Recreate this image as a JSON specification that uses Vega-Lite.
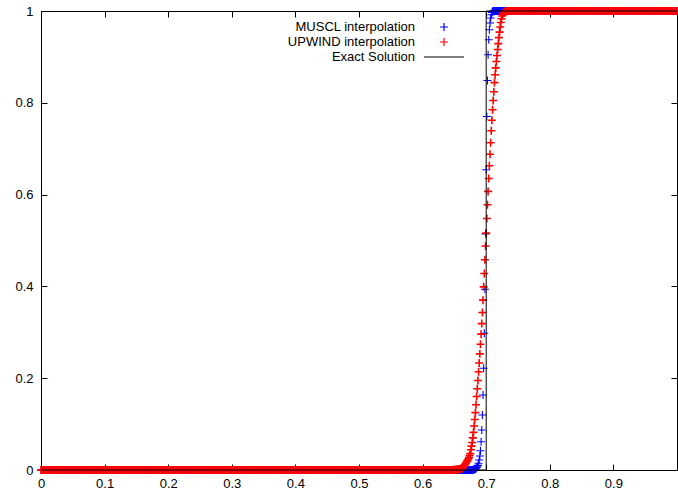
{
"$schema": "https://vega.github.io/schema/vega-lite/v6.json",
"width": 636,
"height": 459,
"autosize": {"type": "none"},
"padding": {"left": 41, "top": 11, "right": 1, "bottom": 23},
"config": {"view": {"stroke": "black", "strokeWidth": 1}, "font": "Liberation Sans", "background": "white"},
"data": {"values": [
{"x":0.000,"m":0,"u":0},{"x":0.002,"m":0,"u":0},{"x":0.004,"m":0,"u":0},{"x":0.006,"m":0,"u":0},{"x":0.008,"m":0,"u":0},
{"x":0.010,"m":0,"u":0},{"x":0.012,"m":0,"u":0},{"x":0.014,"m":0,"u":0},{"x":0.016,"m":0,"u":0},{"x":0.018,"m":0,"u":0},
{"x":0.020,"m":0,"u":0},{"x":0.022,"m":0,"u":0},{"x":0.024,"m":0,"u":0},{"x":0.026,"m":0,"u":0},{"x":0.028,"m":0,"u":0},
{"x":0.030,"m":0,"u":0},{"x":0.032,"m":0,"u":0},{"x":0.034,"m":0,"u":0},{"x":0.036,"m":0,"u":0},{"x":0.038,"m":0,"u":0},
{"x":0.040,"m":0,"u":0},{"x":0.042,"m":0,"u":0},{"x":0.044,"m":0,"u":0},{"x":0.046,"m":0,"u":0},{"x":0.048,"m":0,"u":0},
{"x":0.050,"m":0,"u":0},{"x":0.052,"m":0,"u":0},{"x":0.054,"m":0,"u":0},{"x":0.056,"m":0,"u":0},{"x":0.058,"m":0,"u":0},
{"x":0.060,"m":0,"u":0},{"x":0.062,"m":0,"u":0},{"x":0.064,"m":0,"u":0},{"x":0.066,"m":0,"u":0},{"x":0.068,"m":0,"u":0},
{"x":0.070,"m":0,"u":0},{"x":0.072,"m":0,"u":0},{"x":0.074,"m":0,"u":0},{"x":0.076,"m":0,"u":0},{"x":0.078,"m":0,"u":0},
{"x":0.080,"m":0,"u":0},{"x":0.082,"m":0,"u":0},{"x":0.084,"m":0,"u":0},{"x":0.086,"m":0,"u":0},{"x":0.088,"m":0,"u":0},
{"x":0.090,"m":0,"u":0},{"x":0.092,"m":0,"u":0},{"x":0.094,"m":0,"u":0},{"x":0.096,"m":0,"u":0},{"x":0.098,"m":0,"u":0},
{"x":0.100,"m":0,"u":0},{"x":0.102,"m":0,"u":0},{"x":0.104,"m":0,"u":0},{"x":0.106,"m":0,"u":0},{"x":0.108,"m":0,"u":0},
{"x":0.110,"m":0,"u":0},{"x":0.112,"m":0,"u":0},{"x":0.114,"m":0,"u":0},{"x":0.116,"m":0,"u":0},{"x":0.118,"m":0,"u":0},
{"x":0.120,"m":0,"u":0},{"x":0.122,"m":0,"u":0},{"x":0.124,"m":0,"u":0},{"x":0.126,"m":0,"u":0},{"x":0.128,"m":0,"u":0},
{"x":0.130,"m":0,"u":0},{"x":0.132,"m":0,"u":0},{"x":0.134,"m":0,"u":0},{"x":0.136,"m":0,"u":0},{"x":0.138,"m":0,"u":0},
{"x":0.140,"m":0,"u":0},{"x":0.142,"m":0,"u":0},{"x":0.144,"m":0,"u":0},{"x":0.146,"m":0,"u":0},{"x":0.148,"m":0,"u":0},
{"x":0.150,"m":0,"u":0},{"x":0.152,"m":0,"u":0},{"x":0.154,"m":0,"u":0},{"x":0.156,"m":0,"u":0},{"x":0.158,"m":0,"u":0},
{"x":0.160,"m":0,"u":0},{"x":0.162,"m":0,"u":0},{"x":0.164,"m":0,"u":0},{"x":0.166,"m":0,"u":0},{"x":0.168,"m":0,"u":0},
{"x":0.170,"m":0,"u":0},{"x":0.172,"m":0,"u":0},{"x":0.174,"m":0,"u":0},{"x":0.176,"m":0,"u":0},{"x":0.178,"m":0,"u":0},
{"x":0.180,"m":0,"u":0},{"x":0.182,"m":0,"u":0},{"x":0.184,"m":0,"u":0},{"x":0.186,"m":0,"u":0},{"x":0.188,"m":0,"u":0},
{"x":0.190,"m":0,"u":0},{"x":0.192,"m":0,"u":0},{"x":0.194,"m":0,"u":0},{"x":0.196,"m":0,"u":0},{"x":0.198,"m":0,"u":0},
{"x":0.200,"m":0,"u":0},{"x":0.202,"m":0,"u":0},{"x":0.204,"m":0,"u":0},{"x":0.206,"m":0,"u":0},{"x":0.208,"m":0,"u":0},
{"x":0.210,"m":0,"u":0},{"x":0.212,"m":0,"u":0},{"x":0.214,"m":0,"u":0},{"x":0.216,"m":0,"u":0},{"x":0.218,"m":0,"u":0},
{"x":0.220,"m":0,"u":0},{"x":0.222,"m":0,"u":0},{"x":0.224,"m":0,"u":0},{"x":0.226,"m":0,"u":0},{"x":0.228,"m":0,"u":0},
{"x":0.230,"m":0,"u":0},{"x":0.232,"m":0,"u":0},{"x":0.234,"m":0,"u":0},{"x":0.236,"m":0,"u":0},{"x":0.238,"m":0,"u":0},
{"x":0.240,"m":0,"u":0},{"x":0.242,"m":0,"u":0},{"x":0.244,"m":0,"u":0},{"x":0.246,"m":0,"u":0},{"x":0.248,"m":0,"u":0},
{"x":0.250,"m":0,"u":0},{"x":0.252,"m":0,"u":0},{"x":0.254,"m":0,"u":0},{"x":0.256,"m":0,"u":0},{"x":0.258,"m":0,"u":0},
{"x":0.260,"m":0,"u":0},{"x":0.262,"m":0,"u":0},{"x":0.264,"m":0,"u":0},{"x":0.266,"m":0,"u":0},{"x":0.268,"m":0,"u":0},
{"x":0.270,"m":0,"u":0},{"x":0.272,"m":0,"u":0},{"x":0.274,"m":0,"u":0},{"x":0.276,"m":0,"u":0},{"x":0.278,"m":0,"u":0},
{"x":0.280,"m":0,"u":0},{"x":0.282,"m":0,"u":0},{"x":0.284,"m":0,"u":0},{"x":0.286,"m":0,"u":0},{"x":0.288,"m":0,"u":0},
{"x":0.290,"m":0,"u":0},{"x":0.292,"m":0,"u":0},{"x":0.294,"m":0,"u":0},{"x":0.296,"m":0,"u":0},{"x":0.298,"m":0,"u":0},
{"x":0.300,"m":0,"u":0},{"x":0.302,"m":0,"u":0},{"x":0.304,"m":0,"u":0},{"x":0.306,"m":0,"u":0},{"x":0.308,"m":0,"u":0},
{"x":0.310,"m":0,"u":0},{"x":0.312,"m":0,"u":0},{"x":0.314,"m":0,"u":0},{"x":0.316,"m":0,"u":0},{"x":0.318,"m":0,"u":0},
{"x":0.320,"m":0,"u":0},{"x":0.322,"m":0,"u":0},{"x":0.324,"m":0,"u":0},{"x":0.326,"m":0,"u":0},{"x":0.328,"m":0,"u":0},
{"x":0.330,"m":0,"u":0},{"x":0.332,"m":0,"u":0},{"x":0.334,"m":0,"u":0},{"x":0.336,"m":0,"u":0},{"x":0.338,"m":0,"u":0},
{"x":0.340,"m":0,"u":0},{"x":0.342,"m":0,"u":0},{"x":0.344,"m":0,"u":0},{"x":0.346,"m":0,"u":0},{"x":0.348,"m":0,"u":0},
{"x":0.350,"m":0,"u":0},{"x":0.352,"m":0,"u":0},{"x":0.354,"m":0,"u":0},{"x":0.356,"m":0,"u":0},{"x":0.358,"m":0,"u":0},
{"x":0.360,"m":0,"u":0},{"x":0.362,"m":0,"u":0},{"x":0.364,"m":0,"u":0},{"x":0.366,"m":0,"u":0},{"x":0.368,"m":0,"u":0},
{"x":0.370,"m":0,"u":0},{"x":0.372,"m":0,"u":0},{"x":0.374,"m":0,"u":0},{"x":0.376,"m":0,"u":0},{"x":0.378,"m":0,"u":0},
{"x":0.380,"m":0,"u":0},{"x":0.382,"m":0,"u":0},{"x":0.384,"m":0,"u":0},{"x":0.386,"m":0,"u":0},{"x":0.388,"m":0,"u":0},
{"x":0.390,"m":0,"u":0},{"x":0.392,"m":0,"u":0},{"x":0.394,"m":0,"u":0},{"x":0.396,"m":0,"u":0},{"x":0.398,"m":0,"u":0},
{"x":0.400,"m":0,"u":0},{"x":0.402,"m":0,"u":0},{"x":0.404,"m":0,"u":0},{"x":0.406,"m":0,"u":0},{"x":0.408,"m":0,"u":0},
{"x":0.410,"m":0,"u":0},{"x":0.412,"m":0,"u":0},{"x":0.414,"m":0,"u":0},{"x":0.416,"m":0,"u":0},{"x":0.418,"m":0,"u":0},
{"x":0.420,"m":0,"u":0},{"x":0.422,"m":0,"u":0},{"x":0.424,"m":0,"u":0},{"x":0.426,"m":0,"u":0},{"x":0.428,"m":0,"u":0},
{"x":0.430,"m":0,"u":0},{"x":0.432,"m":0,"u":0},{"x":0.434,"m":0,"u":0},{"x":0.436,"m":0,"u":0},{"x":0.438,"m":0,"u":0},
{"x":0.440,"m":0,"u":0},{"x":0.442,"m":0,"u":0},{"x":0.444,"m":0,"u":0},{"x":0.446,"m":0,"u":0},{"x":0.448,"m":0,"u":0},
{"x":0.450,"m":0,"u":0},{"x":0.452,"m":0,"u":0},{"x":0.454,"m":0,"u":0},{"x":0.456,"m":0,"u":0},{"x":0.458,"m":0,"u":0},
{"x":0.460,"m":0,"u":0},{"x":0.462,"m":0,"u":0},{"x":0.464,"m":0,"u":0},{"x":0.466,"m":0,"u":0},{"x":0.468,"m":0,"u":0},
{"x":0.470,"m":0,"u":0},{"x":0.472,"m":0,"u":0},{"x":0.474,"m":0,"u":0},{"x":0.476,"m":0,"u":0},{"x":0.478,"m":0,"u":0},
{"x":0.480,"m":0,"u":0},{"x":0.482,"m":0,"u":0},{"x":0.484,"m":0,"u":0},{"x":0.486,"m":0,"u":0},{"x":0.488,"m":0,"u":0},
{"x":0.490,"m":0,"u":0},{"x":0.492,"m":0,"u":0},{"x":0.494,"m":0,"u":0},{"x":0.496,"m":0,"u":0},{"x":0.498,"m":0,"u":0},
{"x":0.500,"m":0,"u":0},{"x":0.502,"m":0,"u":0},{"x":0.504,"m":0,"u":0},{"x":0.506,"m":0,"u":0},{"x":0.508,"m":0,"u":0},
{"x":0.510,"m":0,"u":0},{"x":0.512,"m":0,"u":0},{"x":0.514,"m":0,"u":0},{"x":0.516,"m":0,"u":0},{"x":0.518,"m":0,"u":0},
{"x":0.520,"m":0,"u":0},{"x":0.522,"m":0,"u":0},{"x":0.524,"m":0,"u":0},{"x":0.526,"m":0,"u":0},{"x":0.528,"m":0,"u":0},
{"x":0.530,"m":0,"u":0},{"x":0.532,"m":0,"u":0},{"x":0.534,"m":0,"u":0},{"x":0.536,"m":0,"u":0},{"x":0.538,"m":0,"u":0},
{"x":0.540,"m":0,"u":0},{"x":0.542,"m":0,"u":0},{"x":0.544,"m":0,"u":0},{"x":0.546,"m":0,"u":0},{"x":0.548,"m":0,"u":0},
{"x":0.550,"m":0,"u":0},{"x":0.552,"m":0,"u":0},{"x":0.554,"m":0,"u":0},{"x":0.556,"m":0,"u":0},{"x":0.558,"m":0,"u":0},
{"x":0.560,"m":0,"u":0},{"x":0.562,"m":0,"u":0},{"x":0.564,"m":0,"u":0},{"x":0.566,"m":0,"u":0},{"x":0.568,"m":0,"u":0},
{"x":0.570,"m":0,"u":0},{"x":0.572,"m":0,"u":0},{"x":0.574,"m":0,"u":0},{"x":0.576,"m":0,"u":0},{"x":0.578,"m":0,"u":0},
{"x":0.580,"m":0,"u":0},{"x":0.582,"m":0,"u":0},{"x":0.584,"m":0,"u":0},{"x":0.586,"m":0,"u":0},{"x":0.588,"m":0,"u":0},
{"x":0.590,"m":0,"u":0},{"x":0.592,"m":0,"u":0},{"x":0.594,"m":0,"u":0},{"x":0.596,"m":0,"u":0},{"x":0.598,"m":0,"u":0},
{"x":0.600,"m":0,"u":0},{"x":0.602,"m":0,"u":0},{"x":0.604,"m":0,"u":0},{"x":0.606,"m":0,"u":0},{"x":0.608,"m":0,"u":0},
{"x":0.610,"m":0,"u":0},{"x":0.612,"m":0,"u":0},{"x":0.614,"m":0,"u":0},{"x":0.616,"m":0,"u":0},{"x":0.618,"m":0,"u":0},
{"x":0.620,"m":0,"u":0},{"x":0.622,"m":0,"u":0},{"x":0.624,"m":0,"u":0},{"x":0.626,"m":0,"u":0},{"x":0.628,"m":0,"u":0},
{"x":0.630,"m":0,"u":0},{"x":0.632,"m":0,"u":0},{"x":0.634,"m":0,"u":0},{"x":0.636,"m":0,"u":0},{"x":0.638,"m":0,"u":0},
{"x":0.640,"m":0,"u":0},{"x":0.642,"m":0,"u":0},{"x":0.644,"m":0,"u":0},{"x":0.646,"m":0,"u":0},{"x":0.648,"m":0,"u":0},
{"x":0.649,"m":0,"u":0.0003},{"x":0.650,"m":0,"u":0.0004},{"x":0.651,"m":0,"u":0.0005},{"x":0.652,"m":0,"u":0.0006},
{"x":0.653,"m":0,"u":0.0007},{"x":0.654,"m":0,"u":0.0009},{"x":0.655,"m":0,"u":0.0011},{"x":0.656,"m":0,"u":0.0013},
{"x":0.657,"m":0,"u":0.0015},{"x":0.658,"m":0,"u":0.0018},{"x":0.659,"m":0,"u":0.0022},{"x":0.660,"m":0,"u":0.0026},
{"x":0.661,"m":0,"u":0.0031},{"x":0.662,"m":0,"u":0.0037},{"x":0.663,"m":0,"u":0.0046},{"x":0.664,"m":0,"u":0.0058},
{"x":0.665,"m":0,"u":0.0075},{"x":0.666,"m":0,"u":0.0098},{"x":0.667,"m":0,"u":0.0122},{"x":0.668,"m":0,"u":0.0146},
{"x":0.669,"m":0,"u":0.0170},{"x":0.670,"m":0,"u":0.0194},{"x":0.671,"m":0,"u":0.0218},{"x":0.672,"m":0,"u":0.0245},
{"x":0.673,"m":0,"u":0.0275},{"x":0.674,"m":0,"u":0.0320},{"x":0.675,"m":0,"u":0.0360},{"x":0.676,"m":0,"u":0.0440},
{"x":0.677,"m":0,"u":0.0520},{"x":0.678,"m":0.0002,"u":0.0600},{"x":0.679,"m":0.0004,"u":0.0700},{"x":0.680,"m":0.0006,"u":0.0820},
{"x":0.681,"m":0.0009,"u":0.0960},{"x":0.682,"m":0.0014,"u":0.1100},{"x":0.683,"m":0.0021,"u":0.1250},{"x":0.684,"m":0.0032,"u":0.1420},
{"x":0.685,"m":0.0048,"u":0.1600},{"x":0.686,"m":0.0070,"u":0.1770},{"x":0.687,"m":0.0100,"u":0.1950},{"x":0.688,"m":0.0146,"u":0.2140},
{"x":0.689,"m":0.0218,"u":0.2330},{"x":0.690,"m":0.0305,"u":0.2530},{"x":0.691,"m":0.0421,"u":0.2740},{"x":0.692,"m":0.0617,"u":0.2960},
{"x":0.693,"m":0.0872,"u":0.3190},{"x":0.694,"m":0.1199,"u":0.3430},{"x":0.695,"m":0.1635,"u":0.3700},{"x":0.696,"m":0.2217,"u":0.3990},
{"x":0.697,"m":0.2980,"u":0.4280},{"x":0.698,"m":0.3939,"u":0.4580},{"x":0.699,"m":0.5145,"u":0.4880},{"x":0.700,"m":0.6540,"u":0.5160},
{"x":0.701,"m":0.7702,"u":0.5480},{"x":0.702,"m":0.8487,"u":0.5780},{"x":0.703,"m":0.9046,"u":0.6070},{"x":0.704,"m":0.9373,"u":0.6350},
{"x":0.705,"m":0.9591,"u":0.6630},{"x":0.706,"m":0.9737,"u":0.6880},{"x":0.707,"m":0.9847,"u":0.7130},{"x":0.708,"m":0.9918,"u":0.7390},
{"x":0.709,"m":0.9968,"u":0.7620},{"x":0.710,"m":0.9990,"u":0.7850},{"x":0.711,"m":1,"u":0.8050},{"x":0.712,"m":1,"u":0.8240},
{"x":0.713,"m":1,"u":0.8440},{"x":0.714,"m":1,"u":0.8610},{"x":0.715,"m":1,"u":0.8760},{"x":0.716,"m":1,"u":0.8900},
{"x":0.717,"m":1,"u":0.9030},{"x":0.718,"m":1,"u":0.9160},{"x":0.719,"m":1,"u":0.9290},{"x":0.720,"m":1,"u":0.9420},
{"x":0.721,"m":1,"u":0.9540},{"x":0.722,"m":1,"u":0.9650},{"x":0.723,"m":1,"u":0.9750},{"x":0.724,"m":1,"u":0.9830},
{"x":0.725,"m":1,"u":0.9890},{"x":0.726,"m":1,"u":0.9930},{"x":0.727,"m":1,"u":0.9955},{"x":0.728,"m":1,"u":0.9970},
{"x":0.729,"m":1,"u":0.9980},{"x":0.730,"m":1,"u":0.9987},{"x":0.731,"m":1,"u":0.9992},{"x":0.732,"m":1,"u":0.9995},
{"x":0.733,"m":1,"u":0.9997},{"x":0.734,"m":1,"u":0.9998},{"x":0.735,"m":1,"u":0.9999},{"x":0.736,"m":1,"u":1},
{"x":0.738,"m":1,"u":1},
{"x":0.740,"m":1,"u":1},{"x":0.742,"m":1,"u":1},{"x":0.744,"m":1,"u":1},{"x":0.746,"m":1,"u":1},{"x":0.748,"m":1,"u":1},
{"x":0.750,"m":1,"u":1},{"x":0.752,"m":1,"u":1},{"x":0.754,"m":1,"u":1},{"x":0.756,"m":1,"u":1},{"x":0.758,"m":1,"u":1},
{"x":0.760,"m":1,"u":1},{"x":0.762,"m":1,"u":1},{"x":0.764,"m":1,"u":1},{"x":0.766,"m":1,"u":1},{"x":0.768,"m":1,"u":1},
{"x":0.770,"m":1,"u":1},{"x":0.772,"m":1,"u":1},{"x":0.774,"m":1,"u":1},{"x":0.776,"m":1,"u":1},{"x":0.778,"m":1,"u":1},
{"x":0.780,"m":1,"u":1},{"x":0.782,"m":1,"u":1},{"x":0.784,"m":1,"u":1},{"x":0.786,"m":1,"u":1},{"x":0.788,"m":1,"u":1},
{"x":0.790,"m":1,"u":1},{"x":0.792,"m":1,"u":1},{"x":0.794,"m":1,"u":1},{"x":0.796,"m":1,"u":1},{"x":0.798,"m":1,"u":1},
{"x":0.800,"m":1,"u":1},{"x":0.802,"m":1,"u":1},{"x":0.804,"m":1,"u":1},{"x":0.806,"m":1,"u":1},{"x":0.808,"m":1,"u":1},
{"x":0.810,"m":1,"u":1},{"x":0.812,"m":1,"u":1},{"x":0.814,"m":1,"u":1},{"x":0.816,"m":1,"u":1},{"x":0.818,"m":1,"u":1},
{"x":0.820,"m":1,"u":1},{"x":0.822,"m":1,"u":1},{"x":0.824,"m":1,"u":1},{"x":0.826,"m":1,"u":1},{"x":0.828,"m":1,"u":1},
{"x":0.830,"m":1,"u":1},{"x":0.832,"m":1,"u":1},{"x":0.834,"m":1,"u":1},{"x":0.836,"m":1,"u":1},{"x":0.838,"m":1,"u":1},
{"x":0.840,"m":1,"u":1},{"x":0.842,"m":1,"u":1},{"x":0.844,"m":1,"u":1},{"x":0.846,"m":1,"u":1},{"x":0.848,"m":1,"u":1},
{"x":0.850,"m":1,"u":1},{"x":0.852,"m":1,"u":1},{"x":0.854,"m":1,"u":1},{"x":0.856,"m":1,"u":1},{"x":0.858,"m":1,"u":1},
{"x":0.860,"m":1,"u":1},{"x":0.862,"m":1,"u":1},{"x":0.864,"m":1,"u":1},{"x":0.866,"m":1,"u":1},{"x":0.868,"m":1,"u":1},
{"x":0.870,"m":1,"u":1},{"x":0.872,"m":1,"u":1},{"x":0.874,"m":1,"u":1},{"x":0.876,"m":1,"u":1},{"x":0.878,"m":1,"u":1},
{"x":0.880,"m":1,"u":1},{"x":0.882,"m":1,"u":1},{"x":0.884,"m":1,"u":1},{"x":0.886,"m":1,"u":1},{"x":0.888,"m":1,"u":1},
{"x":0.890,"m":1,"u":1},{"x":0.892,"m":1,"u":1},{"x":0.894,"m":1,"u":1},{"x":0.896,"m":1,"u":1},{"x":0.898,"m":1,"u":1},
{"x":0.900,"m":1,"u":1},{"x":0.902,"m":1,"u":1},{"x":0.904,"m":1,"u":1},{"x":0.906,"m":1,"u":1},{"x":0.908,"m":1,"u":1},
{"x":0.910,"m":1,"u":1},{"x":0.912,"m":1,"u":1},{"x":0.914,"m":1,"u":1},{"x":0.916,"m":1,"u":1},{"x":0.918,"m":1,"u":1},
{"x":0.920,"m":1,"u":1},{"x":0.922,"m":1,"u":1},{"x":0.924,"m":1,"u":1},{"x":0.926,"m":1,"u":1},{"x":0.928,"m":1,"u":1},
{"x":0.930,"m":1,"u":1},{"x":0.932,"m":1,"u":1},{"x":0.934,"m":1,"u":1},{"x":0.936,"m":1,"u":1},{"x":0.938,"m":1,"u":1},
{"x":0.940,"m":1,"u":1},{"x":0.942,"m":1,"u":1},{"x":0.944,"m":1,"u":1},{"x":0.946,"m":1,"u":1},{"x":0.948,"m":1,"u":1},
{"x":0.950,"m":1,"u":1},{"x":0.952,"m":1,"u":1},{"x":0.954,"m":1,"u":1},{"x":0.956,"m":1,"u":1},{"x":0.958,"m":1,"u":1},
{"x":0.960,"m":1,"u":1},{"x":0.962,"m":1,"u":1},{"x":0.964,"m":1,"u":1},{"x":0.966,"m":1,"u":1},{"x":0.968,"m":1,"u":1},
{"x":0.970,"m":1,"u":1},{"x":0.972,"m":1,"u":1},{"x":0.974,"m":1,"u":1},{"x":0.976,"m":1,"u":1},{"x":0.978,"m":1,"u":1},
{"x":0.980,"m":1,"u":1},{"x":0.982,"m":1,"u":1},{"x":0.984,"m":1,"u":1},{"x":0.986,"m":1,"u":1},{"x":0.988,"m":1,"u":1},
{"x":0.990,"m":1,"u":1},{"x":0.992,"m":1,"u":1},{"x":0.994,"m":1,"u":1},{"x":0.996,"m":1,"u":1},{"x":0.998,"m":1,"u":1},
{"x":1.000,"m":1,"u":1}
]},
"layer": [
{
"transform": [{"fold": ["m", "u"], "as": ["s", "y"]}, {"filter": "datum.s == 'm'"}],
"mark": {"type": "point", "filled": false, "strokeWidth": 1.1, "opacity": 1, "size": 196},
"encoding": {
"x": {"field": "x", "type": "quantitative", "scale": {"domain": [0, 1], "nice": false, "zero": false},
"axis": {"orient": "bottom", "values": [0, 0.1, 0.2, 0.3, 0.4, 0.5, 0.6, 0.7, 0.8, 0.9], "format": "~g", "title": null, "grid": false, "domain": false, "tickSize": -6, "tickColor": "black", "labelColor": "black", "labelFontSize": 13, "labelFont": "Liberation Sans", "labelPadding": 13, "labelFlush": false}},
"y": {"field": "y", "type": "quantitative", "scale": {"domain": [0, 1], "nice": false},
"axis": {"orient": "left", "values": [0, 0.2, 0.4, 0.6, 0.8, 1], "format": "~g", "title": null, "grid": false, "domain": false, "tickSize": -6, "tickColor": "black", "labelColor": "black", "labelFontSize": 13, "labelFont": "Liberation Sans", "labelPadding": 14, "labelFlush": false}},
"color": {"field": "s", "type": "nominal", "scale": {"domain": ["m", "u", "e"], "range": ["#0000ff", "#ff0000", "#000000"]},
"legend": {"orient": "none", "legendX": 395, "legendY": 8, "padding": 0, "title": null, "labelAlign": "right", "labelOffset": -37, "labelFontSize": 13, "labelFont": "Liberation Sans", "labelColor": "black", "labelLimit": 0, "symbolStrokeWidth": 1.2, "symbolSize": 196, "rowPadding": -4.5,
"labelExpr": "datum.label == 'm' ? 'MUSCL interpolation' : datum.label == 'u' ? 'UPWIND interpolation' : 'Exact Solution'"}},
"shape": {"field": "s", "type": "nominal", "scale": {"domain": ["m", "u", "e"], "range": ["M-0.571,0L0.571,0M0,-0.571L0,0.571", "M-0.571,0L0.571,0M0,-0.571L0,0.571", "M-2.857,0L2.857,0"]}}
}
},
{
"transform": [{"fold": ["m", "u"], "as": ["s", "y"]}, {"filter": "datum.s == 'u'"}],
"mark": {"type": "point", "filled": false, "strokeWidth": 1.6, "opacity": 1, "size": 196},
"encoding": {
"x": {"field": "x", "type": "quantitative", "axis": null},
"y": {"field": "y", "type": "quantitative", "axis": null},
"color": {"field": "s", "type": "nominal"},
"shape": {"field": "s", "type": "nominal"}
}
},
{
"data": {"values": [{"x": 0, "y": 0, "i": 0}, {"x": 0.7, "y": 0, "i": 1}, {"x": 0.7, "y": 1, "i": 2}, {"x": 1, "y": 1, "i": 3}]},
"mark": {"type": "line", "color": "black", "strokeWidth": 1},
"encoding": {
"x": {"field": "x", "type": "quantitative", "axis": {"orient": "top", "values": [0, 0.1, 0.2, 0.3, 0.4, 0.5, 0.6, 0.7, 0.8, 0.9], "labels": false, "title": null, "grid": false, "domain": false, "tickSize": -6, "tickColor": "black"}},
"y": {"field": "y", "type": "quantitative", "axis": {"orient": "right", "values": [0, 0.2, 0.4, 0.6, 0.8, 1], "labels": false, "title": null, "grid": false, "domain": false, "tickSize": -6, "tickColor": "black"}},
"order": {"field": "i"}
}
}
]
}
